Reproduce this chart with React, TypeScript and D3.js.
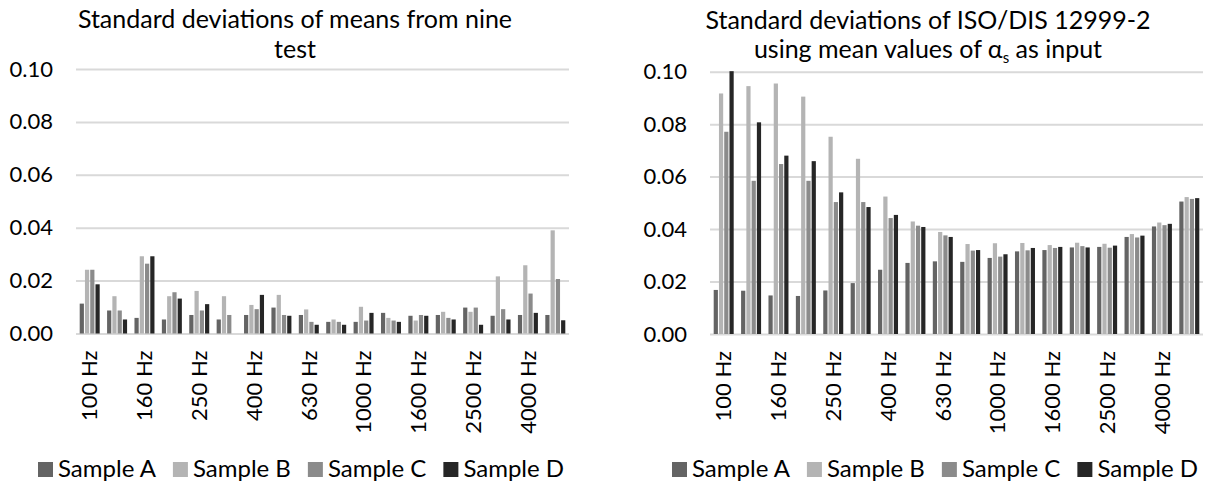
import React, { useEffect, useRef } from 'react'
import * as d3 from 'd3'

// 1/3-octave bands shown on both charts
const frequencies = ['100 Hz', '125 Hz', '160 Hz', '200 Hz', '250 Hz', '315 Hz', '400 Hz', '500 Hz', '630 Hz',
  '800 Hz', '1000 Hz', '1250 Hz', '1600 Hz', '2000 Hz', '2500 Hz', '3150 Hz', '4000 Hz', '5000 Hz']
const samples = ['Sample A', 'Sample B', 'Sample C', 'Sample D']
const sampleColors = ['#646464', '#b4b4b4', '#8b8b8b', '#262626']
const yTicks = [0, 0.02, 0.04, 0.06, 0.08, 0.1]

// left chart: standard deviations of means from nine test
const meansA = [0.0113, 0.0087, 0.0059, 0.0053, 0.0070, 0.0053, 0.0070, 0.0098, 0.0070, 0.0044, 0.0044, 0.0078, 0.0067, 0.0070, 0.0098, 0.0067, 0.0070, 0.0070]
const meansB = [0.0241, 0.0141, 0.0292, 0.0141, 0.0161, 0.0141, 0.0108, 0.0146, 0.0091, 0.0053, 0.0101, 0.0059, 0.0049, 0.0082, 0.0082, 0.0216, 0.0258, 0.0390]
const meansC = [0.0241, 0.0087, 0.0264, 0.0156, 0.0087, 0.0070, 0.0092, 0.0070, 0.0044, 0.0044, 0.0049, 0.0049, 0.0070, 0.0059, 0.0098, 0.0092, 0.0151, 0.0206]
const meansD = [0.0186, 0.0053, 0.0292, 0.0132, 0.0111, 0, 0.0146, 0.0067, 0.0033, 0.0033, 0.0078, 0.0044, 0.0067, 0.0053, 0.0033, 0.0053, 0.0078, 0.0050]

// right chart: ISO/DIS 12999-2 with mean alpha_s as input
const isoA = [0.0168, 0.0165, 0.0147, 0.0145, 0.0166, 0.0194, 0.0245, 0.0271, 0.0277, 0.0275, 0.0290, 0.0315, 0.0320, 0.0330, 0.0332, 0.0370, 0.0410, 0.0505]
const isoB = [0.0917, 0.0945, 0.0955, 0.0905, 0.0752, 0.0668, 0.0524, 0.0429, 0.0389, 0.0343, 0.0346, 0.0347, 0.0339, 0.0348, 0.0344, 0.0381, 0.0425, 0.0522]
const isoC = [0.0771, 0.0584, 0.0648, 0.0584, 0.0503, 0.0503, 0.0442, 0.0413, 0.0376, 0.0318, 0.0295, 0.0319, 0.0328, 0.0335, 0.0329, 0.0368, 0.0415, 0.0515]
const isoD = [0.1002, 0.0807, 0.0680, 0.0659, 0.0540, 0.0484, 0.0454, 0.0408, 0.0370, 0.0320, 0.0304, 0.0328, 0.0332, 0.0330, 0.0337, 0.0375, 0.0420, 0.0518]

const FONT = 'Lato, "Open Sans", sans-serif'
const TITLE_SIZE = 25
const LEGEND_SIZE = 24
const TICK_SIZE = 22   // axis numbers / band labels

function drawPanel(svg, series, cfg) {
  const g = svg.append('g')

  const x = d3.scaleBand().domain(frequencies).range([cfg.left, cfg.right]).padding(0)
  const inner = d3.scaleBand().domain(samples)
    .range([x.bandwidth() * 0.135, x.bandwidth() * 0.865]).paddingInner(0.2).paddingOuter(0)
  const y = d3.scaleLinear().domain([0, 0.1]).range([cfg.bottom, cfg.top])

  // gridlines + y labels
  const yAxis = d3.axisLeft(y)
    .tickValues(yTicks)
    .tickFormat(d3.format('.2f'))
    .tickSize(-(cfg.right - cfg.left))
    .tickPadding(23)
  const ya = g.append('g')
    .attr('transform', 'translate(' + cfg.left + ',0)')
    .call(yAxis)
  ya.select('.domain').remove()
  ya.selectAll('line').attr('stroke', '#d9d9d9').attr('stroke-width', 2)
  ya.selectAll('text')
    .attr('fill', '#000')
    .style('font-family', FONT)
    .style('font-size', TICK_SIZE + 'px')

  // bars
  const rows = frequencies.map((f, i) => ({ f, values: series.map(s => s[i]) }))
  g.append('g')
    .selectAll('g')
    .data(rows)
    .join('g')
    .attr('transform', d => 'translate(' + x(d.f) + ',0)')
    .selectAll('rect')
    .data(d => d.values.map((v, k) => ({ key: samples[k], v, k })))
    .join('rect')
    .attr('x', d => inner(d.key))
    .attr('width', inner.bandwidth())
    .attr('y', d => y(d.v))
    .attr('height', d => y(0) - y(d.v))
    .attr('fill', d => sampleColors[d.k])

  // x labels, every second band
  const xAxis = d3.axisBottom(x)
    .tickSize(0)
    .tickFormat((d, i) => (i % 2 === 0 ? d : ''))
  const xa = g.append('g')
    .attr('transform', 'translate(0,' + cfg.bottom + ')')
    .call(xAxis)
  xa.select('.domain').remove()
  xa.selectAll('text')
    .attr('transform', 'rotate(-90)')
    .attr('x', -17)
    .attr('y', 0)
    .attr('dy', '0.35em')
    .attr('text-anchor', 'end')
    .attr('fill', '#000')
    .style('font-family', FONT)
    .style('font-size', TICK_SIZE + 'px')

  // title, two lines
  const line1 = g.append('text')
    .attr('x', cfg.titleX).attr('y', cfg.titleY[0])
    .attr('text-anchor', 'middle')
    .attr('fill', '#000')
    .style('font-family', FONT)
    .style('font-size', TITLE_SIZE + 'px')
    .text(cfg.title[0])
  const line2 = g.append('text')
    .attr('x', cfg.titleX).attr('y', cfg.titleY[1])
    .attr('text-anchor', 'middle')
    .attr('fill', '#000')
    .style('font-family', FONT)
    .style('font-size', TITLE_SIZE + 'px')
  cfg.title[1].forEach(part => {
    if (part.sub) {
      line2.append('tspan').attr('dy', 5).style('font-size', '15px').text(part.text)
    } else {
      line2.append('tspan').attr('dy', part.after ? -5 : 0).text(part.text)
    }
  })

  // legend
  let lx = cfg.legendX
  samples.forEach((s, k) => {
    g.append('rect')
      .attr('x', lx).attr('y', 462).attr('width', 15).attr('height', 15)
      .attr('fill', sampleColors[k])
    const t = g.append('text')
      .attr('x', lx + 20).attr('y', 477)
      .attr('fill', '#000')
      .style('font-family', FONT)
      .style('font-size', LEGEND_SIZE + 'px')
      .text(s)
    lx += 20 + t.node().getComputedTextLength() + 17
  })
}

const App = () => {
  const ref = useRef(null)

  useEffect(() => {
    const svg = d3.select(ref.current)
      .append('svg')
      .attr('width', 1205)
      .attr('height', 487)
      .style('display', 'block')

    drawPanel(svg, [meansA, meansB, meansC, meansD], {
      left: 76, right: 569, top: 69, bottom: 333.5,
      titleX: 295, titleY: [28, 58], legendX: 38,
      title: ['Standard deviations of means from nine', [{ text: 'test' }]]
    })

    drawPanel(svg, [isoA, isoB, isoC, isoD], {
      left: 710, right: 1203, top: 71.7, bottom: 334,
      titleX: 928, titleY: [29, 58], legendX: 672,
      title: ['Standard deviations of ISO/DIS 12999-2', [
        { text: 'using mean values of α' },
        { text: 's', sub: true },
        { text: ' as input', after: true }
      ]]
    })

    return () => {
      svg.remove()
    }
  }, [])

  return (
    <div ref={ref} style={{ position: 'absolute', left: 0, top: 0, width: 1205, height: 487 }}></div>
  )
}

export default App
